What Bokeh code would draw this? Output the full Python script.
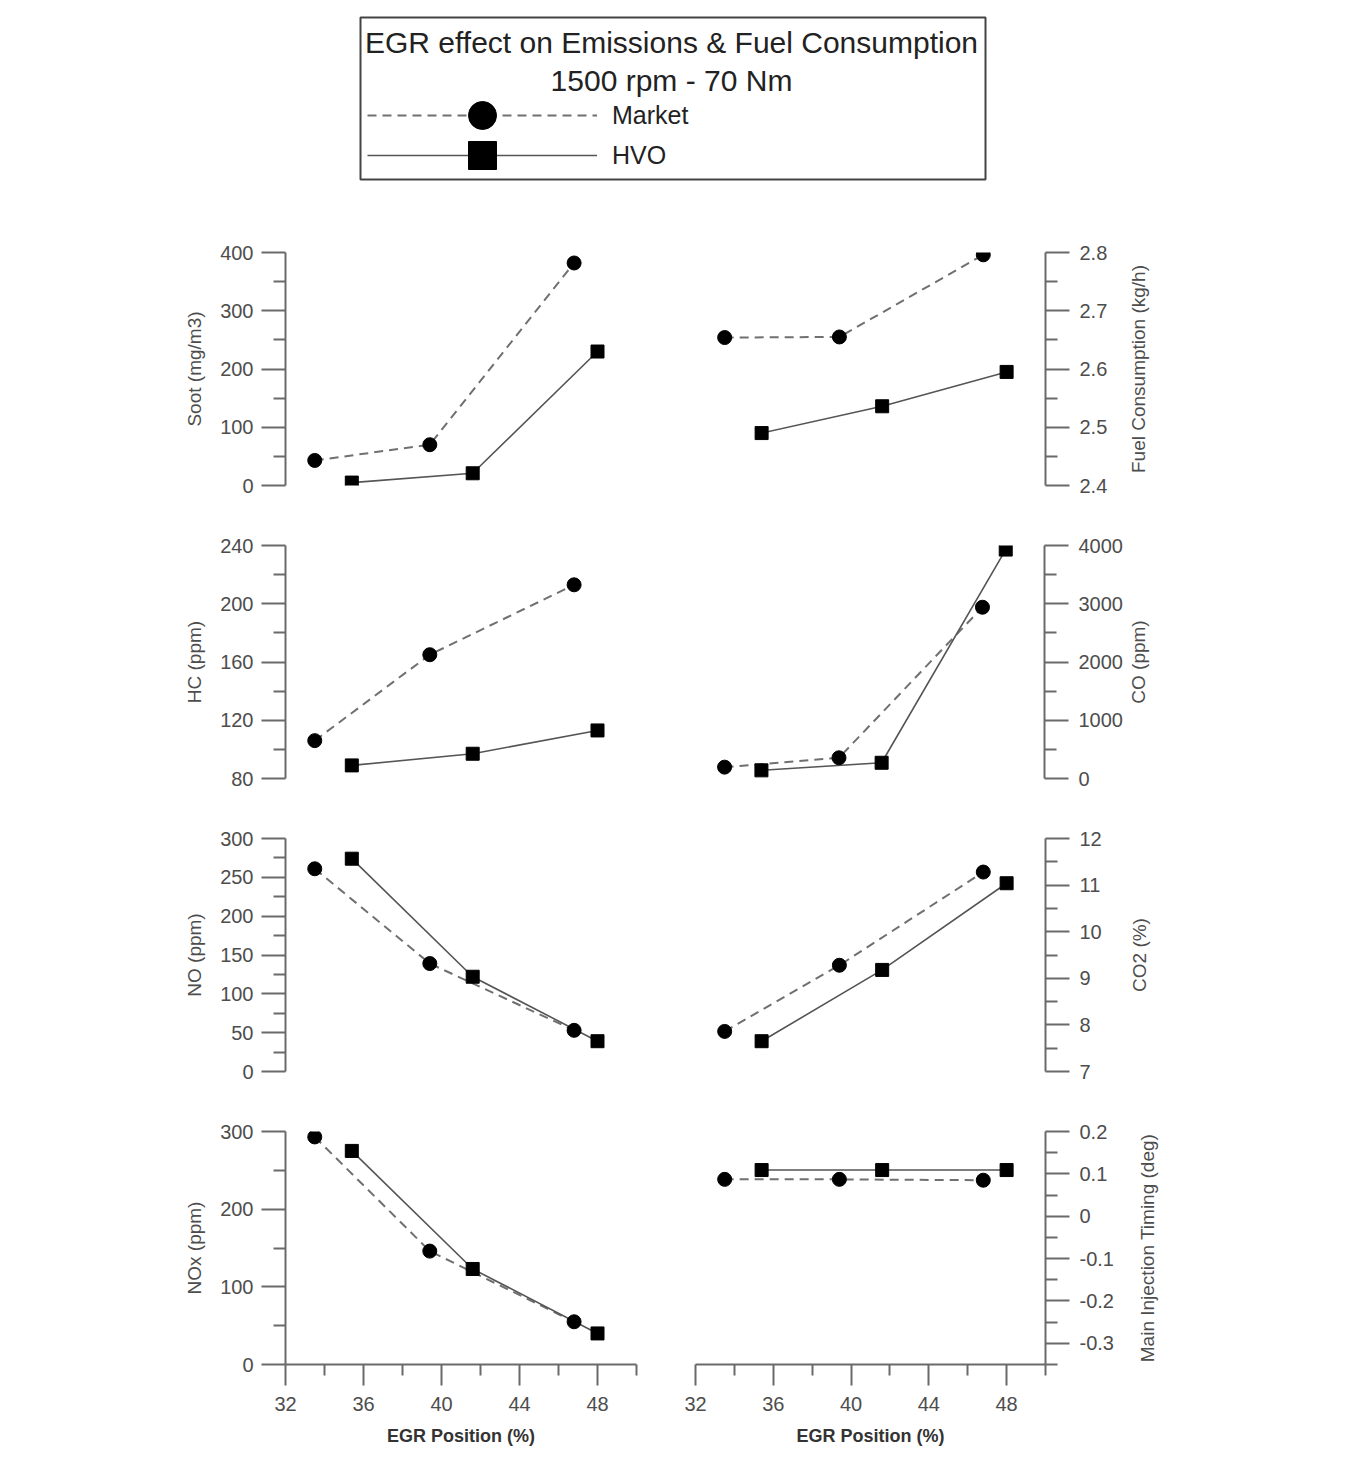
import math
from bokeh.plotting import figure
from bokeh.layouts import column, row
from bokeh.models import (Range1d, FixedTicker, Legend, LegendItem, Label,
                          CustomJSTickFormatter)
from bokeh.embed import file_html
from bokeh.resources import INLINE

# ---------------- data ----------------
egr_market = [33.5, 39.4, 46.8]
egr_hvo = [35.4, 41.6, 48.0]

soot_market = [43, 70, 382]
soot_hvo = [5, 21, 230]
fuel_market = [2.654, 2.655, 2.796]
fuel_hvo = [2.49, 2.536, 2.595]
hc_market = [106, 165, 213]
hc_hvo = [89, 97, 113]
co_market = [195, 355, 2940]
co_hvo = [140, 270, 3930]
no_market = [261, 139, 53]
no_hvo = [274, 122, 39]
co2_market = [7.86, 9.28, 11.28]
co2_hvo = [7.65, 9.18, 11.04]
nox_market = [293, 146, 55]
nox_hvo = [275, 123, 40]
inj_market = [0.087, 0.087, 0.085]
inj_hvo = [0.109, 0.109, 0.109]

x_ticks = [32, 36, 40, 44, 48]
x_minor = [34, 38, 42, 46, 50]
soot_ticks = [0, 100, 200, 300, 400]
soot_minor = [50, 150, 250, 350]
fuel_ticks = [2.4, 2.5, 2.6, 2.7, 2.8]
fuel_minor = [2.45, 2.55, 2.65, 2.75]
hc_ticks = [80, 120, 160, 200, 240]
hc_minor = [100, 140, 180, 220]
co_ticks = [0, 1000, 2000, 3000, 4000]
co_minor = [500, 1500, 2500, 3500]
no_ticks = [0, 50, 100, 150, 200, 250, 300]
no_minor = [25, 75, 125, 175, 225, 275]
co2_ticks = [7, 8, 9, 10, 11, 12]
co2_minor = [7.5, 8.5, 9.5, 10.5, 11.5]
nox_ticks = [0, 100, 200, 300]
nox_minor = [50, 150, 250]
inj_ticks = [-0.3, -0.2, -0.1, 0, 0.1, 0.2]
inj_minor = [-0.35, -0.25, -0.15, -0.05, 0.05, 0.15]

FONT = "Liberation Sans"
AXC = "#6a6a6a"
TXT = "#4d4d4d"
MK_LINE = "#707070"
HVO_LINE = "#555555"
FRAME_H = 233
TOP_B = 24
BOT_B = 36
BOT_B_LAST = 85

fmt = CustomJSTickFormatter(code="return tick.toString()")


def style_axis(ax):
    ax.axis_line_color = AXC
    ax.axis_line_width = 2
    ax.major_tick_line_color = AXC
    ax.major_tick_line_width = 2
    ax.minor_tick_line_color = AXC
    ax.minor_tick_line_width = 2
    ax.major_tick_in = 0
    ax.minor_tick_in = 0
    ax.major_label_text_font = FONT
    ax.major_label_text_font_size = "20px"
    ax.major_label_text_color = TXT
    ax.axis_label_text_font = FONT
    ax.axis_label_text_font_style = "normal"
    ax.axis_label_text_font_size = "19px"
    ax.axis_label_text_color = TXT


def make_panel(ylabel, yr, ticks, minor, ym, yh, side, bottom, std):
    left = side == "left"
    bb = BOT_B_LAST if bottom else BOT_B
    p = figure(width=666 if left else 459, height=TOP_B + FRAME_H + bb,
               x_range=Range1d(32, 50), y_range=Range1d(*yr),
               output_backend="svg", toolbar_location=None,
               x_axis_location="below" if bottom else None,
               y_axis_location=side,
               min_border_left=285 if left else 29,
               min_border_right=30 if left else 80,
               min_border_top=TOP_B, min_border_bottom=bb)
    p.xgrid.visible = False
    p.ygrid.visible = False
    p.outline_line_color = None

    p.line(egr_market, ym, line_color=MK_LINE, line_width=2, line_dash="9 6")
    p.line(egr_hvo, yh, line_color=HVO_LINE, line_width=1.6)
    p.scatter(egr_market, ym, marker="circle", size=14,
              fill_color="black", line_color="black")
    p.scatter(egr_hvo, yh, marker="square", size=13,
              fill_color="black", line_color="black")

    for ax in list(p.yaxis) + (list(p.xaxis) if bottom else []):
        style_axis(ax)
    for ax in p.yaxis:
        ax.ticker = FixedTicker(ticks=ticks, minor_ticks=minor)
        ax.formatter = fmt
        ax.major_tick_out = 24
        ax.minor_tick_out = 12
        ax.major_label_standoff = 8 if left else 10
        if left:
            ax.axis_label = ylabel
            ax.axis_label_standoff = std
    if bottom:
        for ax in p.xaxis:
            ax.ticker = FixedTicker(ticks=x_ticks, minor_ticks=x_minor)
            ax.formatter = fmt
            ax.axis_label = "EGR Position (%)"
            ax.axis_label_text_font_style = "bold"
            ax.axis_label_text_font_size = "18px"
            ax.axis_label_text_color = "#333333"
            ax.major_tick_out = 21
            ax.minor_tick_out = 11
            ax.major_label_standoff = 11
            ax.axis_label_standoff = 12
    if left:
        return p
    # strip to the right of the panel carrying the right-hand axis title,
    # written bottom-to-top as in the reference (same borders as the panel)
    strip = figure(width=221, height=TOP_B + FRAME_H + bb,
                   x_range=Range1d(0, 1), y_range=Range1d(0, 1),
                   x_axis_location=None, y_axis_location=None,
                   output_backend="svg", toolbar_location=None,
                   min_border_left=0, min_border_right=0,
                   min_border_top=TOP_B, min_border_bottom=bb)
    strip.xgrid.visible = False
    strip.ygrid.visible = False
    strip.outline_line_color = None
    strip.add_layout(Label(x=std, y=FRAME_H / 2, x_units="screen", y_units="screen",
                           text=ylabel, angle=math.pi / 2, text_align="center",
                           text_baseline="middle", text_font=FONT,
                           text_font_size="19px", text_color=TXT))
    return p, strip


p1 = make_panel("Soot (mg/m3)", (0, 400), soot_ticks, soot_minor, soot_market, soot_hvo, "left", False, 12)
p2, s2 = make_panel("Fuel Consumption (kg/h)", (2.4, 2.8), fuel_ticks, fuel_minor, fuel_market, fuel_hvo, "right", False, 13)
p3 = make_panel("HC (ppm)", (80, 240), hc_ticks, hc_minor, hc_market, hc_hvo, "left", False, 12)
p4, s4 = make_panel("CO (ppm)", (0, 4000), co_ticks, co_minor, co_market, co_hvo, "right", False, 13)
p5 = make_panel("NO (ppm)", (0, 300), no_ticks, no_minor, no_market, no_hvo, "left", False, 12)
p6, s6 = make_panel("CO2 (%)", (7, 12), co2_ticks, co2_minor, co2_market, co2_hvo, "right", False, 14)
p7 = make_panel("NOx (ppm)", (0, 300), nox_ticks, nox_minor, nox_market, nox_hvo, "left", True, 12)
p8, s8 = make_panel("Main Injection Timing (deg)", (-0.35, 0.2), inj_ticks, inj_minor, inj_market, inj_hvo, "right", True, 22)

# ---------------- header with title and legend ----------------
header = figure(width=1346, height=228, x_range=Range1d(0, 1), y_range=Range1d(0, 1),
                x_axis_location=None, y_axis_location=None,
                output_backend="svg", toolbar_location=None,
                min_border_left=360, min_border_right=361,
                min_border_top=17, min_border_bottom=49)
header.xgrid.visible = False
header.ygrid.visible = False
header.outline_line_color = "#444444"
header.outline_line_width = 2

# legend proxies (their data lies outside the header's visible range)
lm = header.line(egr_market, soot_market, line_color=MK_LINE, line_width=2, line_dash="9 6")
sm = header.scatter(egr_market, soot_market, marker="circle", size=14,
                    fill_color="black", line_color="black")
lh = header.line(egr_hvo, soot_hvo, line_color=HVO_LINE, line_width=1.6)
sh = header.scatter(egr_hvo, soot_hvo, marker="square", size=13,
                    fill_color="black", line_color="black")

legend_style = dict(glyph_width=230, glyph_height=70, padding=0, label_standoff=15,
                    label_text_font=FONT, label_text_font_size="25px",
                    label_text_color="#222222", border_line_color=None,
                    background_fill_alpha=0)
header.add_layout(Legend(items=[LegendItem(label="Market", renderers=[lm, sm])],
                         location=(7, 29), **legend_style))
header.add_layout(Legend(items=[LegendItem(label="HVO", renderers=[lh, sh])],
                         location=(7, -11), **legend_style))

header.add_layout(Label(x=311, y=137, x_units="screen", y_units="screen",
                        text="EGR effect on Emissions & Fuel Consumption",
                        text_align="center", text_baseline="middle",
                        text_font=FONT, text_font_size="30px", text_color="#222222"))
header.add_layout(Label(x=311, y=99, x_units="screen", y_units="screen",
                        text="1500 rpm - 70 Nm",
                        text_align="center", text_baseline="middle",
                        text_font=FONT, text_font_size="30px", text_color="#222222"))

layout = column(header,
                row(p1, p2, s2),
                row(p3, p4, s4),
                row(p5, p6, s6),
                row(p7, p8, s8))

open("out.html", "w").write(file_html(layout, INLINE))
